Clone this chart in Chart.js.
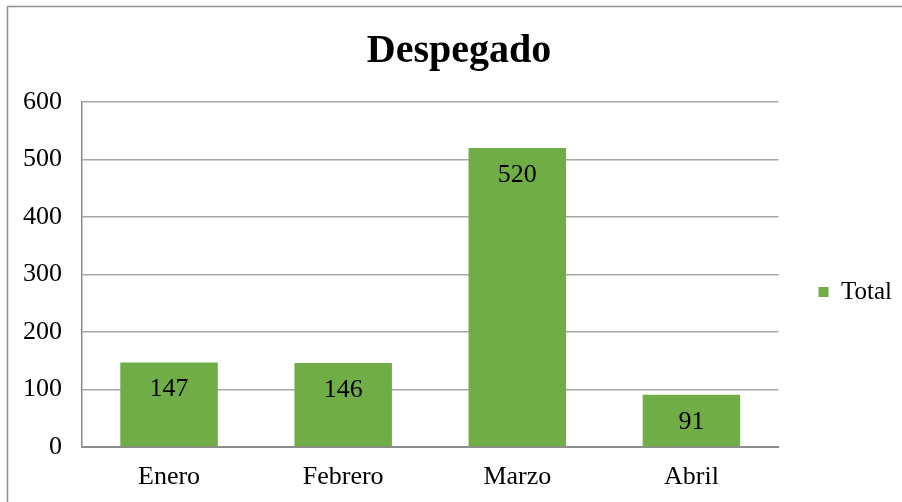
<!DOCTYPE html>
<html>
<head>
<meta charset="utf-8">
<script src="https://cdn.jsdelivr.net/npm/chart.js@4/dist/chart.umd.min.js"></script>
<style>
  html, body { margin: 0; padding: 0; background: #fff; }
  canvas { display: block; }
</style>
</head>
<body>
<canvas id="chart" width="902" height="502"></canvas>
<script>
// values
const months = ['Enero', 'Febrero', 'Marzo', 'Abril'];
const totals = [147, 146, 520, 91];
const seriesName = 'Total';
const chartTitle = 'Despegado';

const serif = '"Liberation Serif", "Times New Roman", serif';

// frame around the whole chart (only top and left edges are inside the picture)
const framePlugin = {
  id: 'frame',
  beforeDraw(chart) {
    const ctx = chart.ctx;
    ctx.save();
    ctx.fillStyle = '#fff';
    ctx.fillRect(0, 0, chart.width, chart.height);
    ctx.strokeStyle = '#8f8f8f';
    ctx.lineWidth = 1.5;
    ctx.strokeRect(7.5, 6.5, chart.width + 20, chart.height + 20);
    ctx.restore();
  }
};

// value labels inside the top of each bar
const valueLabels = {
  id: 'valueLabels',
  afterDatasetsDraw(chart) {
    const ctx = chart.ctx;
    const meta = chart.getDatasetMeta(0);
    ctx.save();
    ctx.font = '26px ' + serif;
    ctx.fillStyle = '#000';
    ctx.textAlign = 'center';
    ctx.textBaseline = 'middle';
    meta.data.forEach((bar, i) => {
      ctx.fillText(String(totals[i]), bar.x, bar.y + 27);
    });
    ctx.restore();
  }
};

// push the legend down a bit, like the original
const legendShift = {
  id: 'legendShift',
  afterLayout(chart) {
    if (chart.legend) {
      chart.legend.top += 41;
      chart.legend.bottom += 41;
    }
  }
};

new Chart(document.getElementById('chart'), {
  type: 'bar',
  data: {
    labels: months,
    datasets: [{
      label: seriesName,
      data: totals,
      backgroundColor: '#70AD47',
      borderWidth: 0,
      categoryPercentage: 1,
      barPercentage: 0.56
    }]
  },
  options: {
    responsive: false,
    animation: false,
    layout: { padding: { left: 16, right: 0, top: 0, bottom: 0 } },
    plugins: {
      title: {
        display: true,
        text: chartTitle,
        color: '#000',
        font: { family: serif, size: 40, weight: 'bold' },
        padding: { top: 28, bottom: 26 }
      },
      legend: {
        position: 'right',
        labels: {
          color: '#000',
          font: { family: serif, size: 25 },
          boxWidth: 10,
          boxHeight: 10,
          padding: 40
        }
      },
      tooltip: { enabled: false }
    },
    scales: {
      x: {
        grid: { display: false, drawTicks: false },
        border: { display: true, color: '#8c8c8c', width: 2 },
        ticks: { color: '#000', font: { family: serif, size: 26 }, padding: 15, maxRotation: 0 },
        afterFit(scale) { scale.height = 55; }
      },
      y: {
        min: 0,
        max: 600,
        ticks: { stepSize: 100, color: '#000', font: { family: serif, size: 26 }, padding: 20 },
        grid: { color: '#a6a6a6', lineWidth: 1.5, drawTicks: false },
        border: { display: true, color: '#8c8c8c', width: 1.5 },
        afterFit(scale) { scale.width = 66; }
      }
    }
  },
  plugins: [framePlugin, valueLabels, legendShift]
});
</script>
</body>
</html>
